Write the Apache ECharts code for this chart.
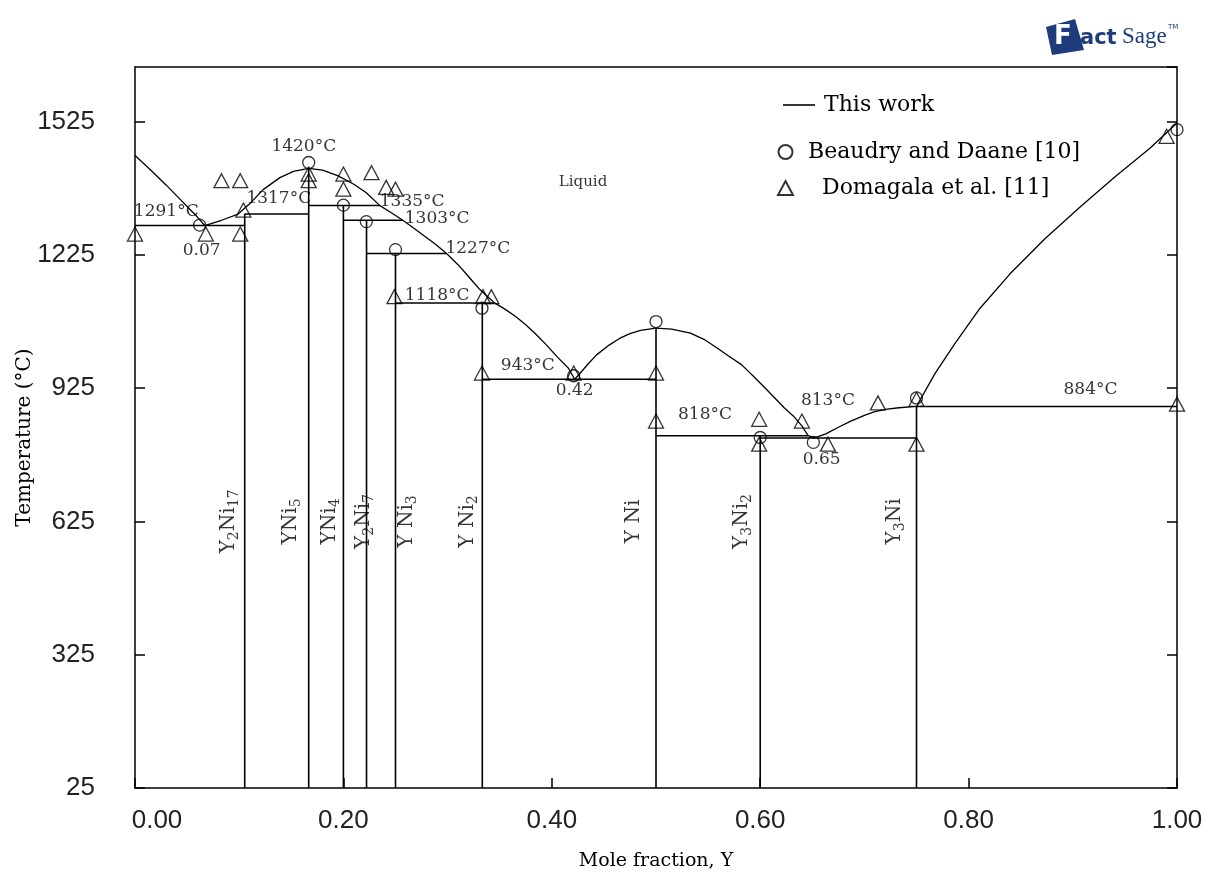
<!DOCTYPE html>
<html>
<head>
<meta charset="utf-8">
<script src="https://cdn.jsdelivr.net/npm/echarts@6/dist/echarts.min.js"></script>
<style>
html,body{margin:0;padding:0;background:#fff;}
#chart{width:1215px;height:876px;}
</style>
</head>
<body>
<div id="chart"></div>
<script>
// ---------- DATA ----------
const xTicks = [0, 0.2, 0.4, 0.6, 0.8, 1.0];
const yTickLabels = [25, 325, 625, 925, 1225, 1525];

// Liquidus ("This work"): [mole fraction Y, T °C]
const liquidusNi   = [[0,1449],[0.015,1416],[0.03,1382],[0.045,1346],[0.058,1315],[0.067,1291]];
const liquidusYNi5 = [[0.067,1291],[0.083,1303],[0.099,1317],[0.11,1340],[0.123,1372],[0.139,1399],[0.152,1413],[0.1667,1420],[0.18,1416],[0.195,1403],[0.21,1384],[0.222,1365],[0.235,1336]];
const liquidusYNi2 = [[0.235,1336],[0.246,1320],[0.257,1303],[0.267,1286],[0.278,1267],[0.289,1248],[0.299,1228],[0.31,1203],[0.318,1182],[0.325,1163],[0.331,1147],[0.338,1132],[0.345,1117],[0.355,1103],[0.365,1087],[0.375,1068],[0.385,1046],[0.395,1022],[0.405,996],[0.416,970],[0.422,945]];
const liquidusYNi  = [[0.422,945],[0.427,958],[0.435,980],[0.443,1000],[0.455,1022],[0.465,1037],[0.475,1048],[0.485,1055],[0.5,1060],[0.515,1058],[0.533,1049],[0.546,1035],[0.559,1015],[0.57,997],[0.582,978],[0.593,953],[0.604,927],[0.614,903],[0.623,881],[0.632,862],[0.64,840],[0.646,818],[0.652,813]];
const liquidusY    = [[0.652,813],[0.663,822],[0.675,837],[0.687,851],[0.7,864],[0.71,872],[0.722,878],[0.733,881],[0.75,884],[0.768,959],[0.787,1026],[0.811,1105],[0.84,1183],[0.873,1261],[0.907,1333],[0.94,1400],[0.974,1465],[1.0,1522]];

// Invariant lines: [x start, x end, T]
const invariants = [
  [0, 0.1053, 1291],
  [0.1053, 0.1667, 1317],
  [0.1667, 0.235, 1336],
  [0.2, 0.257, 1303],
  [0.2222, 0.299, 1228],
  [0.25, 0.345, 1117],
  [0.3333, 0.5, 945],
  [0.5, 0.646, 818],
  [0.6, 0.75, 813],
  [0.75, 1.0, 884]
];

// Compounds: composition, top temperature, name
const compoundX    = [0.1053, 0.1667, 0.2, 0.2222, 0.25, 0.3333, 0.5, 0.6, 0.75];
const compoundTop  = [1317, 1420, 1336, 1303, 1228, 1117, 1060, 818, 884];
const compoundName = ['Y2Ni17', 'YNi5', 'YNi4', 'Y2Ni7', 'Y Ni3', 'Y Ni2', 'Y Ni', 'Y3Ni2', 'Y3Ni'];
const compoundLabelX = [0.0902, 0.1497, 0.1871, 0.2198, 0.2610, 0.3196, 0.4789, 0.5825, 0.7294];
const compoundLabelT = 625;

// Experimental points
const beaudry = [[0.062,1292],[0.1667,1433],[0.2,1337],[0.222,1300],[0.25,1237],[0.333,1105],[0.421,953],[0.5,1075],[0.6,814],[0.651,803],[0.75,903],[1.0,1507]];
const domagala = [[0,1272],[0.068,1272],[0.101,1272],[0.083,1392],[0.101,1392],[0.104,1326],[0.1667,1407],[0.1667,1392],[0.2,1407],[0.2,1373],[0.227,1410],[0.241,1377],[0.25,1373],[0.249,1131],[0.334,1131],[0.342,1131],[0.333,959],[0.421,959],[0.5,959],[0.5,851],[0.599,855],[0.599,799],[0.64,851],[0.665,799],[0.713,892],[0.75,900],[0.75,799],[1.0,889],[0.99,1492]];

// Text annotations: [x, T, text]
const annotations = [
  [0.030,1322,'1291°C'],[0.162,1469,'1420°C'],[0.138,1351,'1317°C'],[0.266,1344,'1335°C'],
  [0.290,1306,'1303°C'],[0.329,1239,'1227°C'],[0.290,1134,'1118°C'],[0.377,977,'943°C'],
  [0.547,866,'818°C'],[0.665,897,'813°C'],[0.917,921,'884°C'],
  [0.064,1234,'0.07'],[0.422,919,'0.42'],[0.659,765,'0.65']
];
const liquidLabel = [[0.430,1389,'Liquid']];

// ---------- CHART ----------
const BLACK = '#000';
const SERIF = '"DejaVu Serif", "Liberation Serif", serif';
const SANS = '"Liberation Sans", Arial, sans-serif';

const lineBase = {
  type: 'line', name: 'This work', symbol: 'none', showSymbol: false,
  silent: true, animation: false, z: 3,
  lineStyle: { color: BLACK, width: 1.3 }, itemStyle: { color: BLACK }
};

const series = [];
series.push(Object.assign({}, lineBase, {
  data: [].concat(liquidusNi, liquidusYNi5.slice(1), liquidusYNi2.slice(1), liquidusYNi.slice(1), liquidusY.slice(1))
}));
invariants.forEach(r => series.push(Object.assign({}, lineBase, {
  lineStyle: { color: BLACK, width: 1.5 },
  data: [[r[0], r[2]], [r[1], r[2]]]
})));
compoundX.forEach((x, i) => series.push(Object.assign({}, lineBase, {
  lineStyle: { color: BLACK, width: 1.6 },
  data: [[x, 25], [x, compoundTop[i]]]
})));

series.push({
  type: 'scatter', name: 'Beaudry and Daane [10]', data: beaudry,
  symbol: 'circle', symbolSize: 12, z: 5, animation: false,
  itemStyle: { color: 'rgba(255,255,255,0)', borderColor: BLACK, borderWidth: 1.3 }
});
series.push({
  type: 'scatter', name: 'Domagala et al. [11]', data: domagala,
  symbol: 'triangle', symbolSize: [15, 14], z: 5, animation: false,
  itemStyle: { color: 'rgba(255,255,255,0)', borderColor: BLACK, borderWidth: 1.3 }
});

function textSeries(arr, fontSize) {
  return {
    type: 'scatter', name: 'labels', silent: true, animation: false, z: 6,
    symbol: 'circle', symbolSize: 1, itemStyle: { color: 'rgba(0,0,0,0)' },
    data: arr.map(a => ({ value: [a[0], a[1]], name: a[2] })),
    label: {
      show: true, position: 'inside', formatter: '{b}',
      color: BLACK, fontFamily: SERIF, fontSize: fontSize, textBorderWidth: 0
    }
  };
}
series.push(textSeries(annotations, 17));
series.push(textSeries(liquidLabel, 15));

const compoundRich = compoundName.map(n => n.replace(/(\d+)/g, '{s|$1}'));
series.push({
  type: 'scatter', name: 'compounds', silent: true, animation: false, z: 6,
  symbol: 'circle', symbolSize: 1, itemStyle: { color: 'rgba(0,0,0,0)' },
  data: compoundLabelX.map((x, i) => ({ value: [x, compoundLabelT], name: compoundRich[i] })),
  label: {
    show: true, position: 'inside', rotate: 90, formatter: '{b}',
    color: BLACK, fontFamily: SERIF, fontSize: 20, lineHeight: 24, textBorderWidth: 0,
    rich: { s: { fontFamily: SERIF, fontSize: 14, lineHeight: 14, verticalAlign: 'bottom', color: BLACK } }
  }
});

const chart = echarts.init(document.getElementById('chart'), null, { renderer: 'canvas' });
chart.setOption({
  backgroundColor: '#fff',
  animation: false,
  grid: { left: 135, right: 38, top: 67, bottom: 88, containLabel: false, outerBoundsMode: 'none' },
  legend: [{
    data: [{ name: 'This work', icon: 'rect' }],
    orient: 'vertical', left: 778, top: 88, itemWidth: 32, itemHeight: 1.6,
    selectedMode: false,
    textStyle: { fontFamily: SERIF, fontSize: 22, color: BLACK, lineHeight: 24, padding: [0, 0, 0, 4] }
  }, {
    data: ['Beaudry and Daane [10]', 'Domagala et al. [11]'],
    orient: 'vertical', left: 772, top: 135, itemWidth: 15, itemHeight: 14, itemGap: 12,
    selectedMode: false,
    formatter: n => (n.indexOf('Domagala') === 0 ? '  ' + n : n),
    textStyle: { fontFamily: SERIF, fontSize: 22, color: BLACK, lineHeight: 24, padding: [0, 0, 0, 10] }
  }],
  xAxis: [{
    type: 'value', min: 0, max: 1, interval: 0.2,
    name: 'Mole fraction, Y', nameLocation: 'middle', nameGap: 64,
    nameTextStyle: { fontFamily: SERIF, fontSize: 19, color: BLACK },
    axisLine: { lineStyle: { color: BLACK, width: 1.5 } },
    axisTick: { inside: true, length: 10, lineStyle: { color: BLACK, width: 1.5 } },
    axisLabel: { margin: 20, fontFamily: SANS, fontSize: 26, color: '#222',
      formatter: v => {
        if (!xTicks.some(t => Math.abs(t - v) < 1e-9)) return '';
        return v === 0 ? '{a|' + v.toFixed(2) + '}' : v.toFixed(2);
      },
      rich: { a: { fontFamily: SANS, fontSize: 26, color: '#222', padding: [0, 0, 0, 44] } } },
    splitLine: { show: false }
  }, {
    type: 'value', min: 0, max: 1, position: 'top',
    axisLine: { onZero: false, lineStyle: { color: BLACK, width: 1.5 } },
    axisTick: { show: false }, axisLabel: { show: false }, splitLine: { show: false }
  }],
  yAxis: [{
    type: 'value', min: 25, max: 1648, interval: 300,
    name: 'Temperature (°C)', nameLocation: 'middle', nameGap: 100, nameRotate: 90,
    nameMoveOverlap: false,
    nameTextStyle: { fontFamily: SERIF, fontSize: 20, color: BLACK, padding: [0, 20, 0, 0] },
    axisLine: { lineStyle: { color: BLACK, width: 1.5 } },
    axisTick: { inside: true, length: 10, lineStyle: { color: BLACK, width: 1.5 } },
    axisLabel: { margin: 40, fontFamily: SANS, fontSize: 26, color: '#222', showMaxLabel: false,
      formatter: v => (yTickLabels.indexOf(v) >= 0 ? String(v) : '') },
    splitLine: { show: false }
  }, {
    type: 'value', min: 25, max: 1648, interval: 300, position: 'right',
    axisLine: { onZero: false, lineStyle: { color: BLACK, width: 1.5 } },
    axisTick: { inside: true, length: 10, lineStyle: { color: BLACK, width: 1.5 } },
    axisLabel: { show: false }, splitLine: { show: false }
  }],
  graphic: [
    { type: 'polygon', shape: { points: [[1046, 27], [1075, 19], [1084, 50], [1052, 55]] }, style: { fill: '#1e3c7c' } },
    { type: 'text', x: 1054, y: 24, style: { text: 'F', font: 'bold 26px "DejaVu Sans"', fill: '#fff' } },
    { type: 'text', x: 1080, y: 28, style: { text: 'act', font: 'bold 21px "DejaVu Sans"', fill: '#1e3c7c' } },
    { type: 'text', x: 1122, y: 25, style: { text: 'Sage', font: '23px "Liberation Serif"', fill: '#1e3c7c' } },
    { type: 'text', x: 1168, y: 24, style: { text: 'TM', font: '7px "DejaVu Sans"', fill: '#1e3c7c' } }
  ],
  series: series
});
</script>
</body>
</html>
